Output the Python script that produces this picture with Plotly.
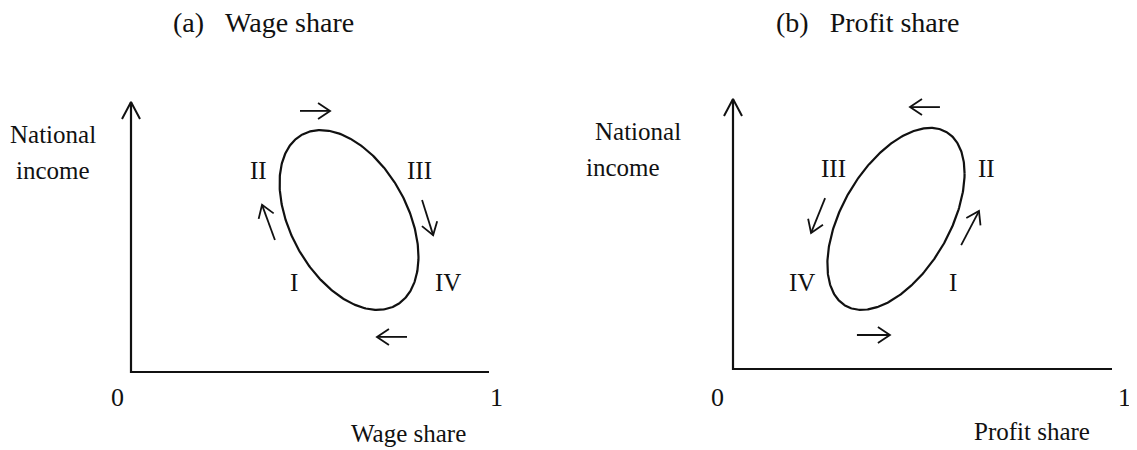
import numpy as np
import plotly.graph_objects as go

FONT = "Liberation Serif, Times New Roman, serif"
INK = "#111111"

# ---------------- text ----------------
panel_titles = ["(a)&nbsp;&nbsp;&nbsp;Wage share", "(b)&nbsp;&nbsp;&nbsp;Profit share"]
panel_title_x = [263, 868]          # page pixels (centre)
panel_title_y = 22
x_titles = ["Wage share", "Profit share"]
y_title_lines = ["National", "income"]
tick_labels = ["0", "1"]

# ---------------- panel (a): wage share ----------------
ell_center_a = [0.609, 0.563]
ell_radii_a = [0.194, 0.333]
ell_tilt_a = -0.41                  # cos of phase between x and y cycles
phase_names_a = ["I", "II", "III", "IV"]
phase_x_a = [0.455, 0.355, 0.807, 0.885]
phase_y_a = [0.330, 0.748, 0.748, 0.330]
arrow_x0_a = [0.472, 0.402, 0.813, 0.771]
arrow_y0_a = [0.967, 0.489, 0.637, 0.130]
arrow_x1_a = [0.556, 0.366, 0.844, 0.687]
arrow_y1_a = [0.967, 0.619, 0.507, 0.130]
ytitle_x_a = [-0.218, -0.218]
ytitle_y_a = [0.880, 0.745]
tick_x_a = [-0.039, 1.022]
tick_y_a = [-0.096, -0.096]
xtitle_pos_a = [0.774, -0.226]

# ---------------- panel (b): profit share ----------------
ell_center_b = [0.430, 0.556]
ell_radii_b = [0.181, 0.337]
ell_tilt_b = 0.50
phase_names_b = ["I", "II", "III", "IV"]
phase_x_b = [0.580, 0.670, 0.264, 0.182]
phase_y_b = [0.322, 0.744, 0.744, 0.322]
arrow_x0_b = [0.546, 0.243, 0.602, 0.327]
arrow_y0_b = [0.970, 0.633, 0.459, 0.126]
arrow_x1_b = [0.467, 0.206, 0.649, 0.414]
arrow_y1_b = [0.970, 0.504, 0.585, 0.126]
ytitle_x_b = [-0.251, -0.290]
ytitle_y_b = [0.880, 0.745]
tick_x_b = [-0.040, 1.034]
tick_y_b = [-0.107, -0.107]
xtitle_pos_b = [0.789, -0.233]

# page is 1137x450; the html body has an 8px margin, so the figure is offset by 8px
OFF = 8
W, H = 1137 - OFF, 450 - OFF
SPLIT = 560 - OFF
# pixel geometry of each panel (figure pixels): origin, px per x unit, px per y unit
panels = [
    dict(ox=131 - OFF, oy=372 - OFF, sx=358, sy=270, xa="x", ya="y", dom=[0, SPLIT / W]),
    dict(ox=733 - OFF, oy=369 - OFF, sx=379, sy=270, xa="x2", ya="y2", dom=[SPLIT / W, 1]),
]

fig = go.Figure()


def line(xs, ys, p, width=2.0):
    fig.add_trace(go.Scatter(x=xs, y=ys, mode="lines", xaxis=p["xa"], yaxis=p["ya"],
                             line=dict(color=INK, width=width), hoverinfo="skip",
                             showlegend=False))


def arrow_head(x0, y0, x1, y1, p, length=12, half=8):
    dx = (x1 - x0) * p["sx"]
    dy = (y1 - y0) * p["sy"]
    n = np.hypot(dx, dy)
    ux, uy = dx / n, dy / n
    bx, by = -ux * length, -uy * length
    px, py = -uy * half, ux * half
    xs = [x1 + (bx + px) / p["sx"], x1, x1 + (bx - px) / p["sx"]]
    ys = [y1 + (by + py) / p["sy"], y1, y1 + (by - py) / p["sy"]]
    return xs, ys


def ellipse(center, radii, tilt):
    t = np.linspace(0, 2 * np.pi, 361)
    phi = np.arccos(tilt)
    return center[0] + radii[0] * np.cos(t), center[1] + radii[1] * np.cos(t - phi)


specs = [
    dict(c=ell_center_a, r=ell_radii_a, k=ell_tilt_a, names=phase_names_a, lx=phase_x_a, ly=phase_y_a,
         ax0=arrow_x0_a, ay0=arrow_y0_a, ax1=arrow_x1_a, ay1=arrow_y1_a,
         ytx=ytitle_x_a, yty=ytitle_y_a, tx=tick_x_a, ty=tick_y_a, xt=xtitle_pos_a),
    dict(c=ell_center_b, r=ell_radii_b, k=ell_tilt_b, names=phase_names_b, lx=phase_x_b, ly=phase_y_b,
         ax0=arrow_x0_b, ay0=arrow_y0_b, ax1=arrow_x1_b, ay1=arrow_y1_b,
         ytx=ytitle_x_b, yty=ytitle_y_b, tx=tick_x_b, ty=tick_y_b, xt=xtitle_pos_b),
]

annotations = []


def note(x, y, xr, yr, text, size=25):
    annotations.append(dict(x=x, y=y, xref=xr, yref=yr, text=text, showarrow=False,
                            xanchor="center", yanchor="middle", font=dict(size=size)))


for i, (p, s) in enumerate(zip(panels, specs)):
    # axes
    line([0, 0, 1], [1, 0, 0], p, width=2.2)
    hx, hy = arrow_head(0, 0.9, 0, 1, p, length=17, half=9)
    line(hx, hy, p, width=2.0)
    # ellipse
    ex, ey = ellipse(s["c"], s["r"], s["k"])
    line(ex, ey, p, width=2.2)
    # direction arrows
    for x0, y0, x1, y1 in zip(s["ax0"], s["ay0"], s["ax1"], s["ay1"]):
        line([x0, x1], [y0, y1], p, width=1.8)
        hx, hy = arrow_head(x0, y0, x1, y1, p)
        line(hx, hy, p, width=1.8)
    xr, yr = p["xa"], p["ya"]
    for name, x, y in zip(s["names"], s["lx"], s["ly"]):
        note(x, y, xr, yr, name)
    for txt, x, y in zip(y_title_lines, s["ytx"], s["yty"]):
        note(x, y, xr, yr, txt)
    for txt, x, y in zip(tick_labels, s["tx"], s["ty"]):
        note(x, y, xr, yr, txt, size=26)
    note(s["xt"][0], s["xt"][1], xr, yr, x_titles[i])
    note((panel_title_x[i] - OFF) / W, 1 - (panel_title_y - OFF) / H, "paper", "paper",
         panel_titles[i], size=28)

layout = dict(
    width=W, height=H, margin=dict(l=0, r=0, t=0, b=0), autosize=False,
    paper_bgcolor="white", plot_bgcolor="white",
    font=dict(family=FONT, size=25, color=INK),
    annotations=annotations, showlegend=False,
)
for k, p in enumerate(panels):
    sfx = "" if k == 0 else "2"
    x_lo = (p["dom"][0] * W - p["ox"]) / p["sx"]
    x_hi = (p["dom"][1] * W - p["ox"]) / p["sx"]
    y_lo = (p["oy"] - H) / p["sy"]
    y_hi = p["oy"] / p["sy"]
    layout["xaxis" + sfx] = dict(domain=p["dom"], range=[x_lo, x_hi], visible=False,
                                 fixedrange=True, anchor="y" + sfx)
    layout["yaxis" + sfx] = dict(domain=[0, 1], range=[y_lo, y_hi], visible=False,
                                 fixedrange=True, anchor="x" + sfx)
fig.update_layout(**layout)
fig.write_html("out.html")
